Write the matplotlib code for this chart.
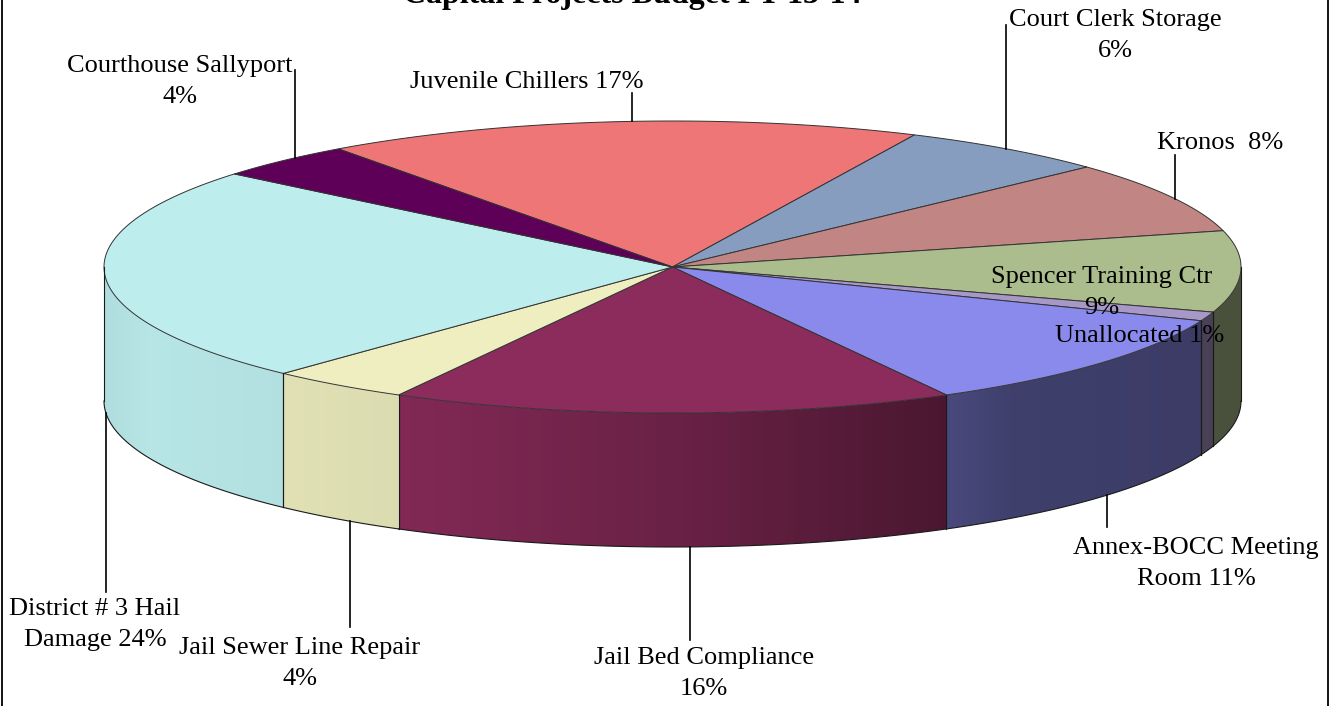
import numpy as np
import matplotlib
matplotlib.use("Agg")
import matplotlib.pyplot as plt
from matplotlib.patches import Polygon
from matplotlib.colors import to_rgb

# ---- data -------------------------------------------------------------
projects = ["Juvenile Chillers", "Court Clerk Storage", "Kronos", "Spencer Training Ctr",
            "Unallocated", "Annex-BOCC Meeting Room", "Jail Bed Compliance",
            "Jail Sewer Line Repair", "District # 3 Hail Damage", "Courthouse Sallyport"]
shares = [17, 6, 8, 9, 1, 11, 16, 4, 24, 4]
label_texts = ["Juvenile Chillers 17%", "Court Clerk Storage\n6%", "Kronos  8%",
               "Spencer Training Ctr\n9%", "Unallocated 1%", "Annex-BOCC Meeting\nRoom 11%",
               "Jail Bed Compliance\n16%", "Jail Sewer Line Repair\n4%",
               "District # 3 Hail\nDamage 24%", "Courthouse Sallyport\n4%"]
colors = ["#EE7676", "#879DC0", "#C18684", "#ABBD8C", "#A898C8",
          "#8A8AEC", "#8C2C5C", "#EEEEC0", "#BDEDED", "#5E0058"]
title = "Capital Projects Budget FY 13-14"

# ---- layout (pixel space) ----------------------------------------------
W, H = 1337, 706
cx, cy, ra, rb, depth = 672.5, 267.0, 568.5, 146.0, 134.0
start_angle = 126.0

label_pos = [(527, 81.5), (1115, 35.5), (1220, 143), (1102, 292.5), (1140, 336),
             (1196, 563.5), (704, 673.5), (300, 663.5), (95, 624.5), (180, 81.5)]
# leader lines: (x, label end y, which edge of the pie)
leaders = {0: (632, 93, "top"), 1: (1006, 25, "top"), 2: (1175, 155, "top"),
           5: (1107, 527, "bottom"), 6: (690, 640, "bottom"),
           7: (350, 627, "bottom"), 8: (106, 592, "bottom"), 9: (295, 70, "top")}

serif = ["Liberation Serif", "DejaVu Serif"]

fig = plt.figure(figsize=(W / 100, H / 100), dpi=100)
ax = fig.add_axes([0, 0, 1, 1])
ax.set_xlim(0, W)
ax.set_ylim(H, 0)
ax.axis("off")


def ex(t):
    return cx + ra * np.cos(np.radians(t))


def ey(t):
    return cy - rb * np.sin(np.radians(t))


def side_factor(u):
    return np.interp(u, [-1.0, -0.92, -0.45, 0.0, 0.5, 0.6, 1.0],
                     [0.93, 0.97, 0.92, 0.76, 0.52, 0.46, 0.43])


# slice angle ranges (clockwise from start_angle)
bounds = []
acc = 0.0
for s in shares:
    t1 = start_angle - acc * 3.6
    t2 = t1 - s * 3.6
    bounds.append((t2, t1))
    acc += s

edge_kw = dict(color="#1a1a1a", lw=0.8, zorder=4)

# ---- front side walls --------------------------------------------------
for (t2, t1), col in zip(bounds, colors):
    for k in range(-2, 2):
        lo = max(t2, -180 + 360 * k)
        hi = min(t1, 0 + 360 * k)
        if hi <= lo:
            continue
        ts = np.linspace(lo, hi, 120)
        xs, ys = ex(ts), ey(ts)
        poly_xy = np.vstack([np.column_stack([xs, ys]),
                             np.column_stack([xs[::-1], ys[::-1] + depth])])
        patch = Polygon(poly_xy, closed=True, facecolor="none", edgecolor="none")
        ax.add_patch(patch)
        x0, x1 = xs.min(), xs.max()
        n = max(int(x1 - x0) + 2, 2)
        gx = np.linspace(x0, x1, n)
        f = side_factor((gx - cx) / ra)
        img = np.clip(np.array(to_rgb(col))[None, None, :] * f[None, :, None], 0, 1)
        im = ax.imshow(img, extent=[x0, x1, ys.max() + depth, ys.min()],
                       aspect="auto", interpolation="bilinear", zorder=2)
        im.set_clip_path(patch)
        ax.plot(xs, ys + depth, **edge_kw)
        for tb in (lo, hi):
            ax.plot([ex(tb), ex(tb)], [ey(tb), ey(tb) + depth], **edge_kw)

# ---- top surface --------------------------------------------------------
for (t2, t1), col in zip(bounds, colors):
    ts = np.linspace(t1, t2, 200)
    pts = np.vstack([[cx, cy], np.column_stack([ex(ts), ey(ts)])])
    ax.add_patch(Polygon(pts, closed=True, facecolor=col, edgecolor="#333333",
                         lw=0.7, zorder=3))

# ---- labels and leader lines -------------------------------------------
for i, (txt, (lx, ly)) in enumerate(zip(label_texts, label_pos)):
    ax.text(lx, ly, txt, ha="center", va="center", multialignment="center",
            fontsize=19, family=serif, color="black", linespacing=1.5, zorder=6)
    if i in leaders:
        x, yl, side = leaders[i]
        u = (x - cx) / ra
        h = rb * np.sqrt(max(1 - u * u, 0))
        ye = cy - h if side == "top" else cy + h + depth
        ax.plot([x, x], [yl, ye], color="black", lw=1.2, zorder=5)

# title, running off the top edge of the canvas
ax.text(632, 2.5, title, ha="center", va="baseline", fontsize=23, fontweight="bold",
        family=serif, color="black", zorder=6)

# frame lines
ax.plot([2, 2], [0, H], color="black", lw=1.3)
ax.plot([1328, 1328], [0, H], color="black", lw=1.3)

fig.savefig("out.png", dpi=100)
